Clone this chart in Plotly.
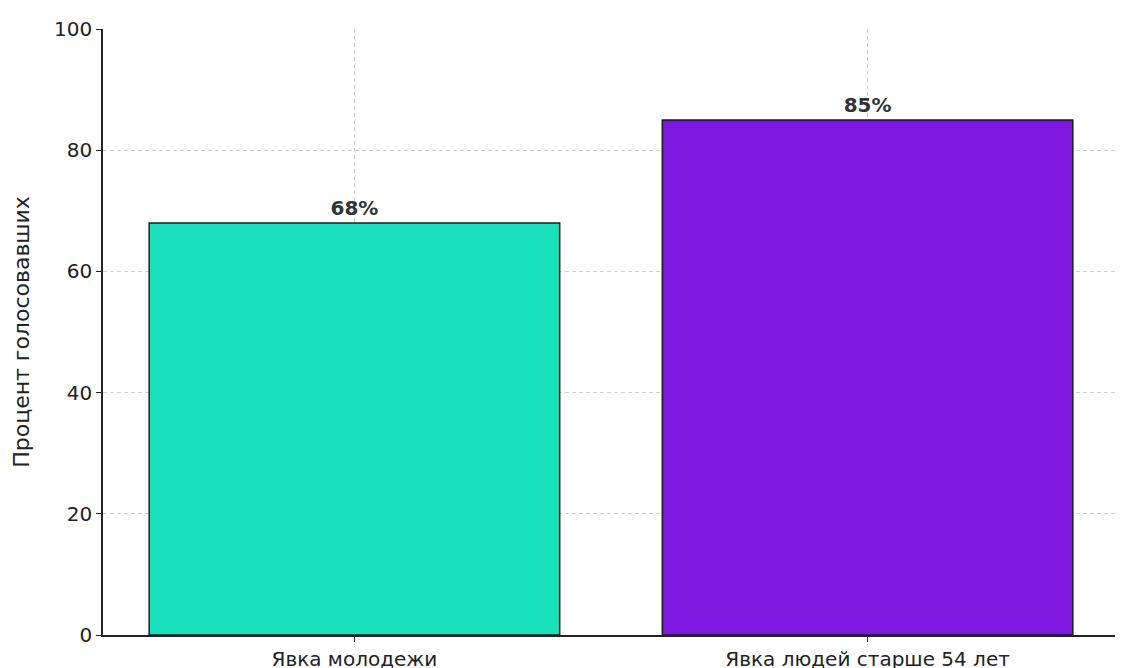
import plotly.graph_objects as go

# Turnout data
categories = ['Явка молодежи', 'Явка людей старше 54 лет']
turnout = [68, 85]
bar_colors = ['#19e0bd', '#7e17e0']
labels = [f'{v}%' for v in turnout]

fig = go.Figure()

fig.add_trace(go.Bar(
    x=categories,
    y=turnout,
    width=0.8,
    marker=dict(color=bar_colors, line=dict(color='#1a1a1a', width=1.5)),
    text=labels,
    textposition='outside',
    textfont=dict(size=20, color='#333333', family='DejaVu Sans', weight='bold'),
    cliponaxis=False,
))

grid = dict(showgrid=True, gridcolor='#d0d0d0', griddash='4px,3px', gridwidth=1)

fig.update_layout(
    width=1123,
    height=668,
    margin=dict(l=95, r=12, t=21, b=41, autoexpand=False),
    plot_bgcolor='white',
    paper_bgcolor='white',
    font=dict(family='DejaVu Sans', size=19, color='#222222'),
    showlegend=False,
    xaxis=dict(
        range=[-0.49, 1.49], automargin=False,
        showline=True, linecolor='#222222', linewidth=1.5,
        ticks='outside', ticklen=5, tickcolor='#222222',
        tickfont=dict(size=20), **grid,
    ),
    yaxis=dict(
        range=[0, 100], automargin=False,
        tickvals=[0, 20, 40, 60, 80, 100],
        showline=True, linecolor='#222222', linewidth=1.5,
        ticks='outside', ticklen=5, tickcolor='#222222',
        tickfont=dict(size=20), **grid,
        zeroline=False,
        title=dict(text='Процент голосовавших', font=dict(size=22), standoff=18),
    ),
)

fig.write_html("out.html")
